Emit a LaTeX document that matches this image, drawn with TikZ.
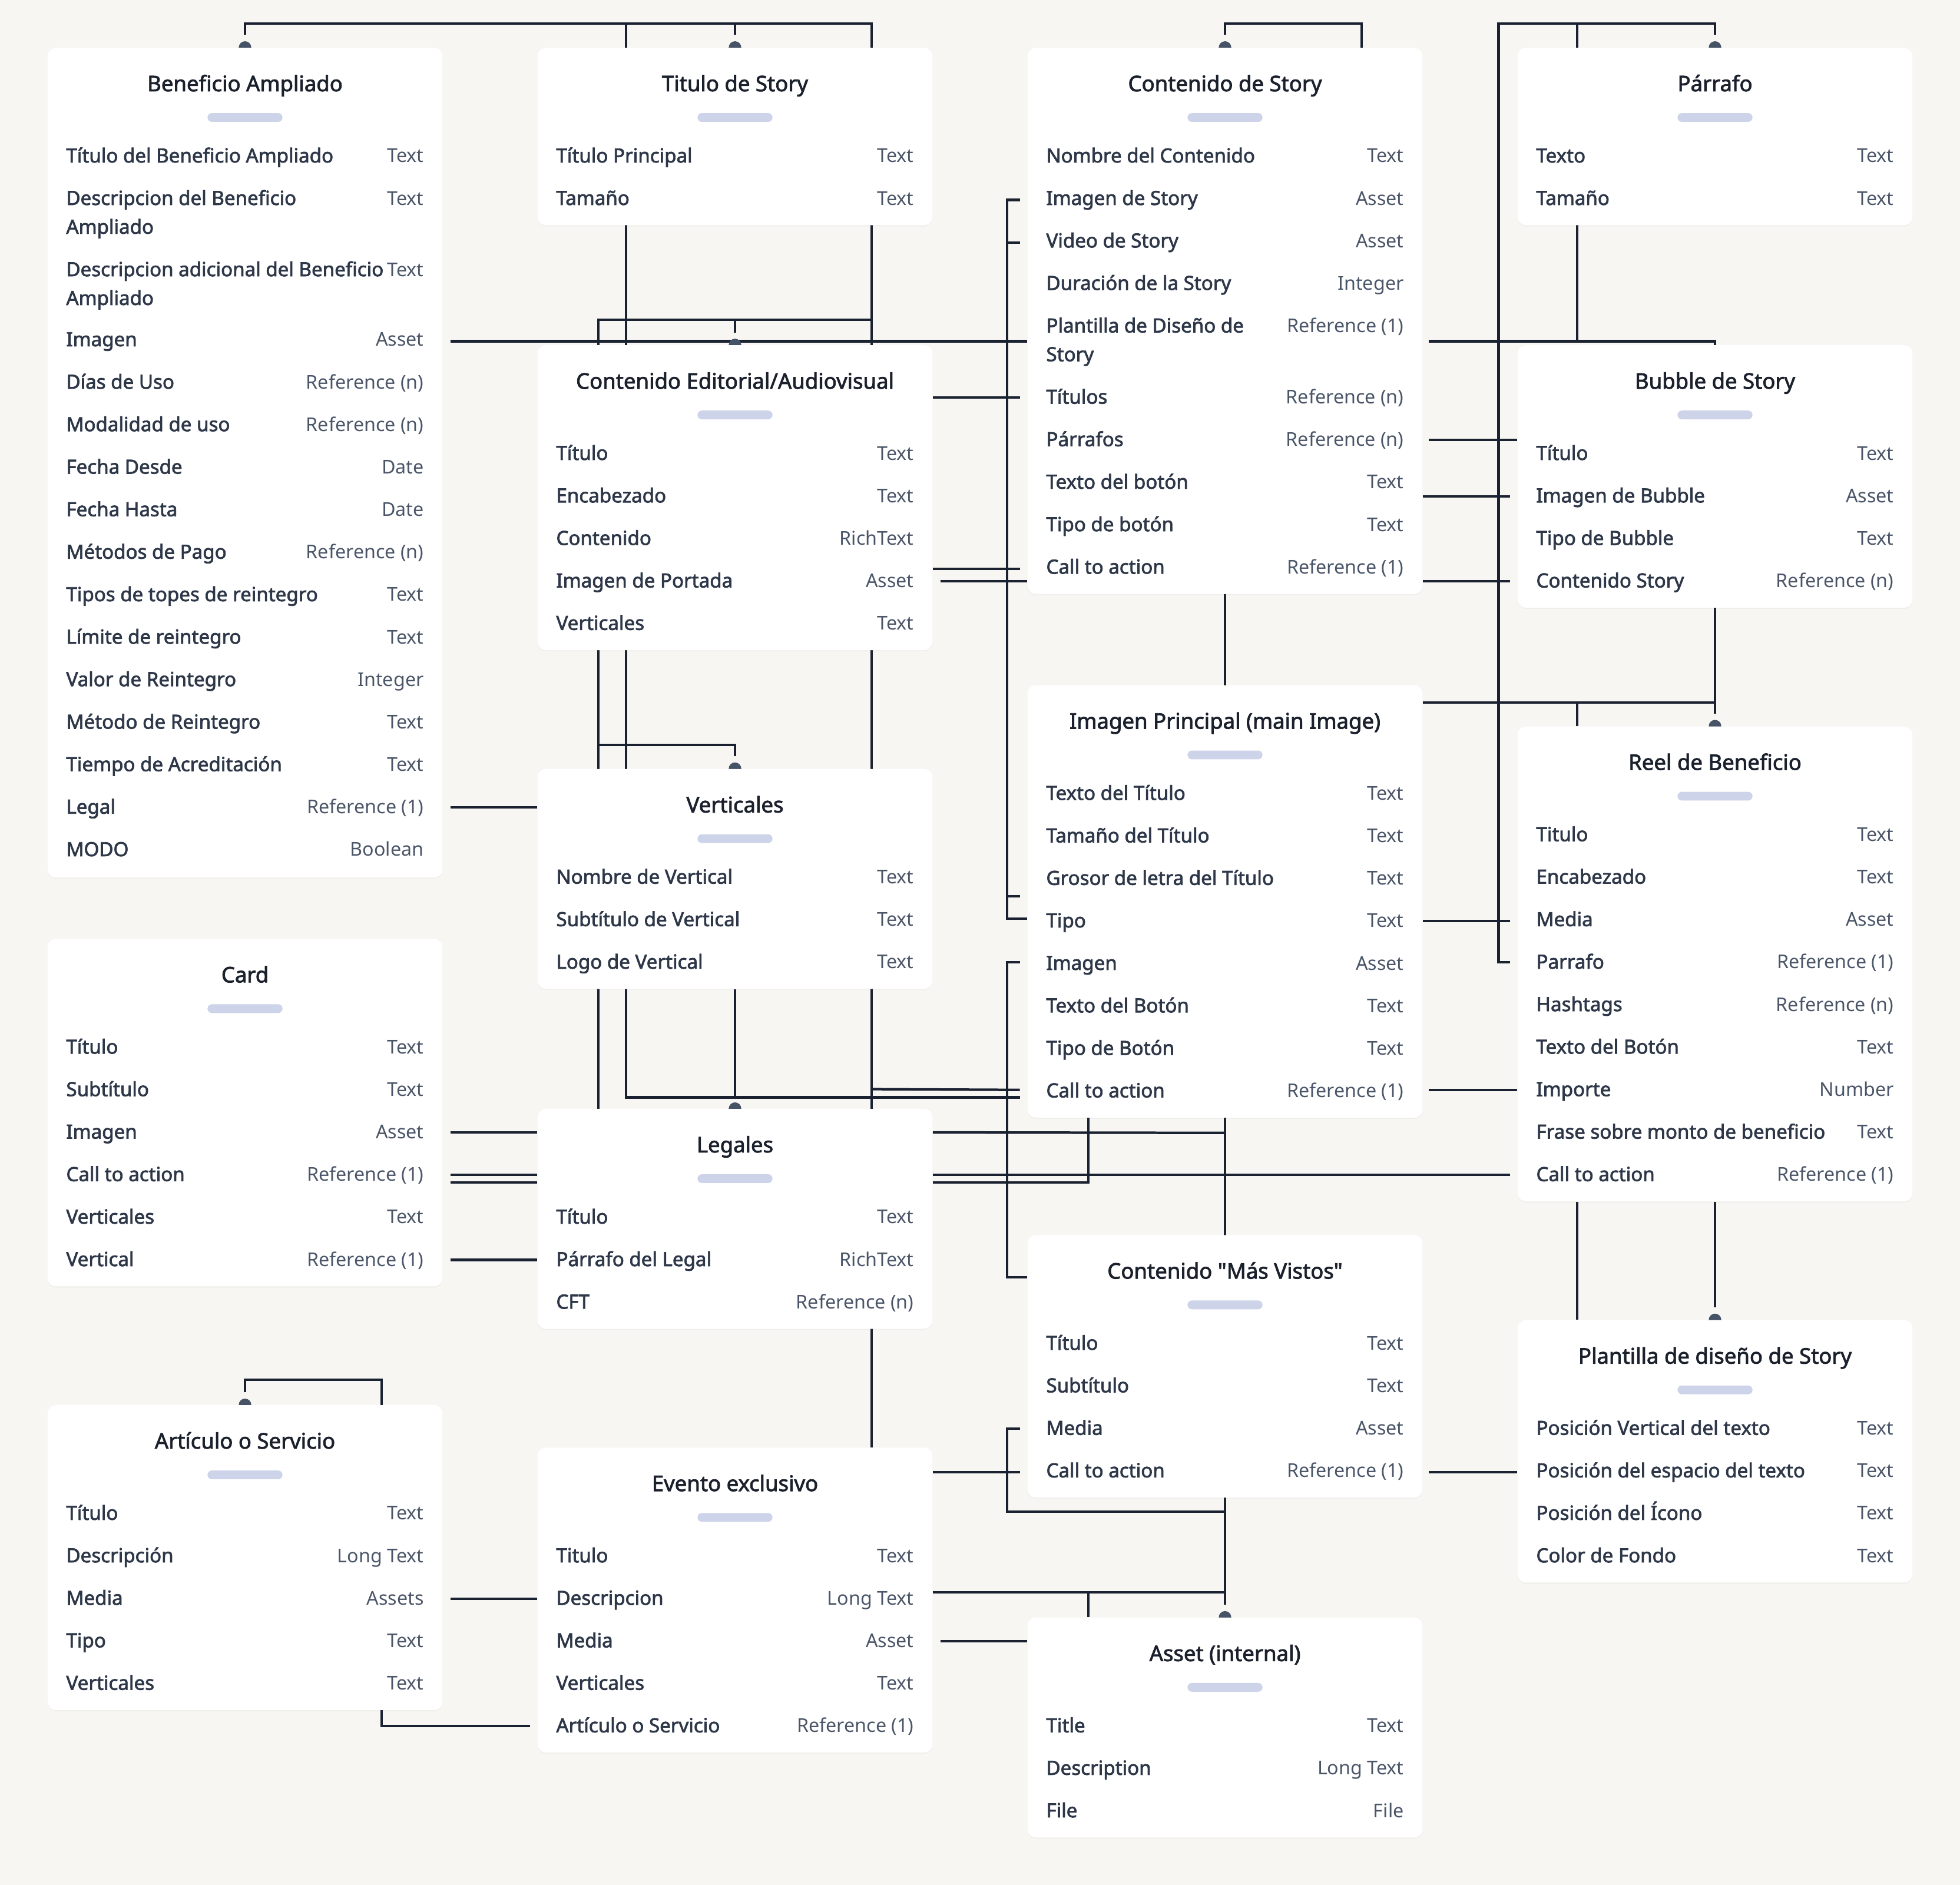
\documentclass[tikz,border=0pt]{standalone}
\usepackage{fontspec}
\setmainfont{Noto Sans}
\newfontfamily\semib[FakeBold=2.2]{Noto Sans}
\usetikzlibrary{calc,shadows}

\definecolor{paper}{HTML}{F7F6F2}
\definecolor{ink}{HTML}{1A2130}
\definecolor{knobc}{HTML}{465366}
\definecolor{pillc}{HTML}{CDD3E8}
\definecolor{titlec}{HTML}{1A202C}
\definecolor{namec}{HTML}{2D3748}
\definecolor{typec}{HTML}{4A5568}

\pgfdeclarelayer{paperlayer}
\pgfdeclarelayer{lines}
\pgfsetlayers{paperlayer,lines,main}

\newcommand\erbox[4]{%
  \node[box, minimum height=#4] (#1) at (#2) {};
  \node[ttl] at ($(#1.north)+(0,35)$) {#3};
  \node[pill] at ($(#1.north)+(0,56)$) {};
}
\newcommand\erfields[3]{%
  \foreach \fn/\ft [count=\i from 0] in {#3} {
    \node[fname] at ($(#1.north west)+(15,#2+34*\i)$) {\fn};
    \node[ftype] at ($(#1.north east)+(-15,#2+34*\i)$) {\ft};
  }
}

\begin{document}
\begin{tikzpicture}[x=1pt, y=-1pt,
  box/.style={fill=white, rounded corners=7, minimum width=316, inner sep=0, anchor=north,
    drop shadow={shadow xshift=0pt, shadow yshift=-1pt, opacity=0.06}},
  ttl/.style={anchor=base, inner sep=0, text=titlec, font=\semib\fontsize{17.2}{20}\selectfont},
  pill/.style={fill=pillc, rounded corners=3.5, minimum width=60, minimum height=7, inner sep=0},
  fname/.style={anchor=base west, inner sep=0, text=namec, font=\semib\fontsize{15.6}{18}\selectfont},
  ftype/.style={anchor=base east, inner sep=0, text=typec, font=\fontsize{15.2}{18}\selectfont},
  link/.style={draw=ink, line width=2},
  knob/.style={fill=knobc}]

\begin{pgfonlayer}{paperlayer}
\fill[paper] (0,0) rectangle (1568,1508);
\end{pgfonlayer}
\useasboundingbox (0,0) rectangle (1568,1508);

\erbox{ba}{196,38}{Beneficio Ampliado}{664}
\erfields{ba}{92}{Título del Beneficio Ampliado/Text, Descripcion del Beneficio/Text}
\node[fname] at ($(ba.north west)+(15,149)$) {Ampliado};
\erfields{ba}{183}{Descripcion adicional del Beneficio/Text}
\node[fname] at ($(ba.north west)+(15,206)$) {Ampliado};
\erfields{ba}{239}{Imagen/Asset, Días de Uso/Reference (n), Modalidad de uso/Reference (n),
  Fecha Desde/Date, Fecha Hasta/Date, Métodos de Pago/Reference (n),
  Tipos de topes de reintegro/Text, Límite de reintegro/Text, Valor de Reintegro/Integer,
  Método de Reintegro/Text, Tiempo de Acreditación/Text, Legal/Reference (1), MODO/Boolean}

\erbox{ts}{588,38}{Titulo de Story}{142}
\erfields{ts}{92}{Título Principal/Text, Tamaño/Text}

\erbox{cs}{980,38}{Contenido de Story}{437}
\erfields{cs}{92}{Nombre del Contenido/Text, Imagen de Story/Asset, Video de Story/Asset,
  Duración de la Story/Integer, Plantilla de Diseño de/Reference (1)}
\node[fname] at ($(cs.north west)+(15,251)$) {Story};
\erfields{cs}{285}{Títulos/Reference (n), Párrafos/Reference (n), Texto del botón/Text,
  Tipo de botón/Text, Call to action/Reference (1)}

\erbox{pa}{1372,38}{Párrafo}{142}
\erfields{pa}{92}{Texto/Text, Tamaño/Text}

\erbox{ce}{588,276}{Contenido Editorial/Audiovisual}{244}
\erfields{ce}{92}{Título/Text, Encabezado/Text, Contenido/RichText, Imagen de Portada/Asset, Verticales/Text}

\erbox{bs}{1372,276}{Bubble de Story}{210}
\erfields{bs}{92}{Título/Text, Imagen de Bubble/Asset, Tipo de Bubble/Text, Contenido Story/Reference (n)}

\erbox{ip}{980,548}{Imagen Principal (main Image)}{346}
\erfields{ip}{92}{Texto del Título/Text, Tamaño del Título/Text, Grosor de letra del Título/Text,
  Tipo/Text, Imagen/Asset, Texto del Botón/Text, Tipo de Botón/Text, Call to action/Reference (1)}

\erbox{rb}{1372,581}{Reel de Beneficio}{380}
\erfields{rb}{92}{Titulo/Text, Encabezado/Text, Media/Asset, Parrafo/Reference (1),
  Hashtags/Reference (n), Texto del Botón/Text, Importe/Number,
  Frase sobre monto de beneficio/Text, Call to action/Reference (1)}

\erbox{ve}{588,615}{Verticales}{176}
\erfields{ve}{92}{Nombre de Vertical/Text, Subtítulo de Vertical/Text, Logo de Vertical/Text}

\erbox{ca}{196,751}{Card}{278}
\erfields{ca}{92}{Título/Text, Subtítulo/Text, Imagen/Asset, Call to action/Reference (1),
  Verticales/Text, Vertical/Reference (1)}

\erbox{le}{588,887}{Legales}{176}
\erfields{le}{92}{Título/Text, Párrafo del Legal/RichText, CFT/Reference (n)}

\erbox{mv}{980,988}{Contenido \symbol{34}Más Vistos\symbol{34}}{210}
\erfields{mv}{92}{Título/Text, Subtítulo/Text, Media/Asset, Call to action/Reference (1)}

\erbox{pl}{1372,1056}{Plantilla de diseño de Story}{210}
\erfields{pl}{92}{Posición Vertical del texto/Text, Posición del espacio del texto/Text,
  Posición del Ícono/Text, Color de Fondo/Text}

\erbox{as}{196,1124}{Artículo o Servicio}{244}
\erfields{as}{92}{Título/Text, Descripción/Long Text, Media/Assets, Tipo/Text, Verticales/Text}

\erbox{ev}{588,1158}{Evento exclusivo}{244}
\erfields{ev}{92}{Titulo/Text, Descripcion/Long Text, Media/Asset, Verticales/Text,
  Artículo o Servicio/Reference (1)}

\erbox{ai}{980,1294}{Asset (internal)}{176}
\erfields{ai}{92}{Title/Text, Description/Long Text, File/File}

% relations, drawn under the tables
\begin{pgfonlayer}{lines}
\draw[link] ($(ba.north)+(0,-10)$) |- ($(ts.north east)+(-49,-19)$) -- ($(ev.north east)+(-49,0)$);
\draw[link] ($(ts.north west)+(71,-19)$) |- ($(ip.north west)+(-6,330)$);
\draw[link] ($(ts.north)+(0,-19)$) -- ($(ts.north)+(0,-10)$);
\draw[link] ($(ce.north east)+(-49,-20)$) -| ($(le.north west)+(49,0)$);
\draw[link] ($(ce.north)+(0,-20)$) -- ($(ce.north)+(0,-10)$);
\draw[link] ($(ve.north west)+(49,-19)$) -| ($(ve.north)+(0,-10)$);
\draw[link] (ve.south) -- ($(le.north)+(0,-10)$);
\draw[link] ($(ip.north west)+(-6,324)$) -- ($(ve.south east)+(-49,80)$);
\draw[link] ($(ba.north east)+(6,235)$) -- ($(cs.north west)+(0,235)$);
\draw[link] ($(cs.north west)+(-6,122)$) -- ++(-10,0) |- ($(ip.north west)+(0,187)$);
\draw[link] ($(cs.north west)+(-16,156)$) -- ++(10,0);
\draw[link] ($(ip.north west)+(-16,169)$) -- ++(10,0);
\draw[link] ($(ce.north east)+(0,42)$) -- ($(cs.north west)+(-6,280)$);
\draw[link] ($(ce.north east)+(0,179)$) -- ($(cs.north west)+(-6,417)$);
\draw[link] ($(ce.north east)+(6,189)$) -- ($(cs.north west)+(0,427)$);
\draw[link] ($(ip.north west)+(-6,222)$) -- ++(-10,0) |- ($(mv.north west)+(0,34)$);
\draw[link] ($(mv.north west)+(-6,155)$) -- ++(-10,0) |- ($(mv.south)+(0,11)$);
\draw[link] ($(ev.north east)+(0,20)$) -- ($(mv.north west)+(-6,190)$);
\draw[link] ($(ev.north east)+(0,116)$) -- ($(ai.north)+(0,-20)$);
\draw[link] ($(ai.north west)+(49,-20)$) -- ($(ai.north west)+(49,0)$);
\draw[link] ($(ev.north east)+(6,155)$) -- ($(ai.north west)+(0,19)$);
\draw[link] ($(cs.north)+(0,-10)$) |- ($(cs.north east)+(-49,-19)$) -- ($(cs.north east)+(-49,0)$);
\draw[link] (cs.south) -- ($(ai.north)+(0,-10)$);
\draw[link] ($(cs.north east)+(5,235)$) -| (bs.north);
\draw[link] ($(pa.north)+(0,-10)$) |- ($(pa.north west)+(-15,-19)$) |- ($(rb.north west)+(-6,189)$);
\draw[link] ($(pa.north west)+(48,-19)$) -- ($(bs.north west)+(48,-3)$);
\draw[link] ($(cs.north east)+(5,314)$) -- ($(bs.north west)+(0,76)$);
\draw[link] ($(cs.north east)+(0,359)$) -- ($(bs.north west)+(-6,121)$);
\draw[link] ($(cs.north east)+(0,427)$) -- ($(bs.north west)+(-6,189)$);
\draw[link] ($(ip.north east)+(0,14)$) -- ($(rb.north)+(0,-19)$);
\draw[link] (bs.south) -- ($(rb.north)+(0,-10)$);
\draw[link] ($(rb.north west)+(48,-19)$) -- ($(rb.north west)+(48,0)$);
\draw[link] ($(ip.north east)+(0,189)$) -- ($(rb.north west)+(-6,156)$);
\draw[link] ($(ip.north east)+(5,324)$) -- ($(rb.north west)+(0,291)$);
\draw[link] ($(le.north east)+(0,19)$) -- ($(ip.south)+(0,12)$);
\draw[link] ($(le.north east)+(0,53)$) -- ($(rb.north west)+(-6,359)$);
\draw[link] ($(le.north east)+(0,59)$) -| ($(ip.south west)+(49,0)$);
\draw[link] ($(ca.north east)+(6,155)$) -- ($(le.north west)+(0,19)$);
\draw[link] ($(ca.north east)+(6,189)$) -- ($(le.north west)+(0,53)$);
\draw[link] ($(ca.north east)+(6,195)$) -- ($(le.north west)+(0,59)$);
\draw[link] ($(ca.north east)+(6,257)$) -- ($(le.north west)+(0,121)$);
\draw[link] ($(ba.north east)+(6,608)$) -- ($(ve.north west)+(0,31)$);
\draw[link] ($(rb.south west)+(48,0)$) -- ($(pl.north west)+(48,0)$);
\draw[link] (rb.south) -- ($(pl.north)+(0,-10)$);
\draw[link] ($(mv.north east)+(5,190)$) -- ($(pl.north west)+(0,122)$);
\draw[link] ($(as.north)+(0,-10)$) |- ($(as.north east)+(-49,-20)$) -- ($(as.north east)+(-49,0)$);
\draw[link] ($(as.south east)+(-49,0)$) |- ($(ev.north west)+(-6,223)$);
\draw[link] ($(as.north east)+(6,155)$) -- ($(ev.north west)+(0,121)$);
\foreach \b in {ba,ts,cs,pa,ce,ve,rb,le,pl,as,ai}
  \fill[knob] (\b.north) circle[radius=5];
\end{pgfonlayer}

\end{tikzpicture}
\end{document}
